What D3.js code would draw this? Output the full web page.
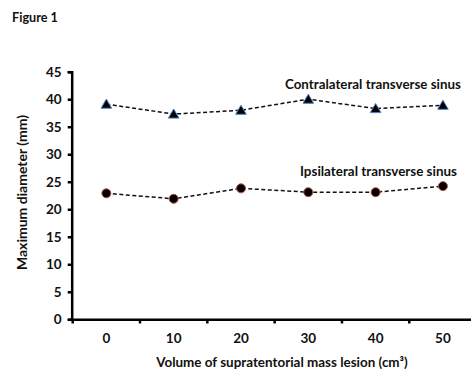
<!DOCTYPE html>
<html><head><meta charset="utf-8">
<script src="https://cdn.jsdelivr.net/npm/d3@7"></script>
<style>body{margin:0;background:#fff}svg{display:block}text{font-family:Lato,"Open Sans",sans-serif;font-weight:bold;fill:#111}</style>
</head><body>
<script>
const categories = ["0","10","20","30","40","50"];
const contralateral = [39.1, 37.3, 38.0, 40.0, 38.3, 38.9];
const ipsilateral = [22.9, 21.9, 23.8, 23.1, 23.1, 24.2];
const yTicks = [0,5,10,15,20,25,30,35,40,45];
const seriesNames = ["Contralateral transverse sinus","Ipsilateral transverse sinus"];

const W=471,H=370;
const svg=d3.select("body").append("svg").attr("width",W).attr("height",H);
const x=d3.scaleBand().domain(categories).range([72.7,476.6]);
const y=d3.scaleLinear().domain([0,45]).range([319.3,71.7]);

function fit(sel,w){
  sel.attr("font-size",13);
  const l=sel.node().getComputedTextLength();
  sel.attr("font-size",13*w/l);
  return sel;
}

fit(svg.append("text").attr("x",12).attr("y",22).text("Figure 1"),46);

// y axis
const ya=svg.append("g").attr("transform","translate(71.7,0)")
  .call(d3.axisLeft(y).tickValues(yTicks).tickSize(4).tickPadding(6));
ya.select(".domain").attr("stroke","#000").attr("stroke-width",2.5);
ya.selectAll(".tick line").attr("stroke","#000").attr("stroke-width",2.5);
ya.selectAll(".tick text").attr("font-size",13.5).attr("font-family","Lato").attr("font-weight","bold").attr("fill","#111");

// x axis
const xa=svg.append("g").attr("transform","translate(0,319.3)")
  .call(d3.axisBottom(x).tickSize(0).tickPadding(14));
xa.select(".domain").attr("stroke","#000").attr("stroke-width",2.5);
xa.selectAll(".tick text").attr("font-size",13.5).attr("font-family","Lato").attr("font-weight","bold").attr("fill","#111");
svg.append("g").selectAll("line").data(categories).join("line")
  .attr("x1",d=>x(d)).attr("x2",d=>x(d)).attr("y1",319.3).attr("y2",323.5)
  .attr("stroke","#000").attr("stroke-width",2.5);

fit(svg.append("text").attr("transform","translate(27,192.5) rotate(-90)").attr("text-anchor","middle")
  .text("Maximum diameter (mm)"),155);
fit(svg.append("text").attr("x",282).attr("y",367).attr("text-anchor","middle")
  .text("Volume of supratentorial mass lesion (cm³)"),252);

const cx=d=>x(d)+x.bandwidth()/2;
const line=d3.line().x((d,i)=>cx(categories[i])).y(d=>y(d));
[contralateral,ipsilateral].forEach(s=>{
  svg.append("path").attr("d",line(s)).attr("fill","none").attr("stroke","#111")
    .attr("stroke-width",1.5).attr("stroke-dasharray","4,2.5");
});
svg.append("g").selectAll("path").data(contralateral).join("path")
  .attr("d",d3.symbol(d3.symbolTriangle,48)())
  .attr("transform",(d,i)=>`translate(${cx(categories[i])},${y(d)+1})`)
  .attr("fill","#000").attr("stroke","#4a7ec0").attr("stroke-width",1);
svg.append("g").selectAll("circle").data(ipsilateral).join("circle")
  .attr("cx",(d,i)=>cx(categories[i])).attr("cy",d=>y(d)).attr("r",4.5)
  .attr("fill","#000").attr("stroke","#c0504d").attr("stroke-width",1);

fit(svg.append("text").attr("x",285).attr("y",89).text(seriesNames[0]),176);
fit(svg.append("text").attr("x",300).attr("y",176).text(seriesNames[1]),157);
</script>
</body></html>
